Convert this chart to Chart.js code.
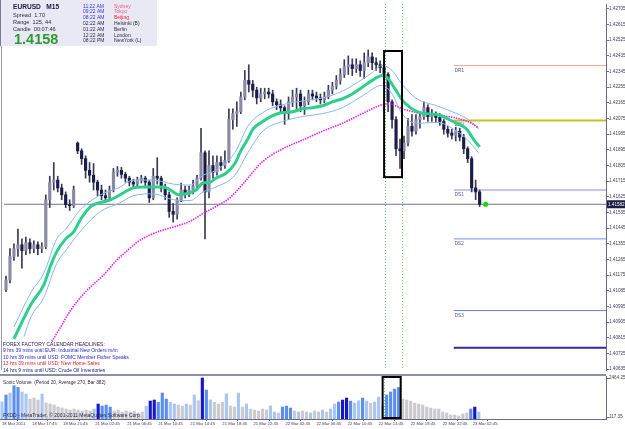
<!DOCTYPE html>
<html><head><meta charset="utf-8">
<script src="https://cdn.jsdelivr.net/npm/chart.js@4.4.1/dist/chart.umd.min.js"></script>
<style>
html,body{margin:0;padding:0;background:#fff;}
#wrap{position:relative;width:625px;height:429px;overflow:hidden;background:#fff;}
canvas{position:absolute;left:0;}
#c1{top:0;} #c2{top:374px;}
</style></head><body>
<div id="wrap"><canvas id="c1" width="625" height="374"></canvas><canvas id="c2" width="625" height="55"></canvas></div>
<script>
// ---------- DATA (30-min steps) ----------
const openP = [1.41091,1.41147,1.41282,1.41327,1.41349,1.41316,1.41361,1.41327,1.41349,1.41327,
1.41338,1.41608,1.41709,1.41721,1.41676,1.41636,1.41580,1.41574,1.41934,1.41889,
1.41844,1.41777,1.41749,1.41709,1.41664,1.41631,1.41619,1.41664,1.41766,1.41777,
1.41754,1.41732,1.41709,1.41698,1.41721,1.41732,1.41709,1.41619,1.41743,1.41732,
1.41676,1.41636,1.41541,1.41524,1.41608,1.41664,1.41642,1.41664,1.41687,1.41732,
1.41878,1.41653,1.41805,1.41766,1.41822,1.41805,1.41833,1.42069,1.42103,1.42114,
1.42199,1.42294,1.42272,1.42238,1.42193,1.42216,1.42227,1.42216,1.42171,1.42154,
1.42137,1.42103,1.42171,1.42199,1.42216,1.42148,1.42171,1.42216,1.42204,1.42193,
1.42182,1.42199,1.42238,1.42261,1.42294,1.42328,1.42373,1.42384,1.42362,1.42384,
1.42351,1.42396,1.42429,1.42396,1.42384,1.42367,1.42328,1.42171,1.42069,1.41901,
1.41889,1.41934,1.42030,1.42002,1.42069,1.42086,1.42137,1.42086,1.42098,1.42081,
1.42058,1.42013,1.41991,1.41979,1.42002,1.41968,1.41901,1.41844,1.41676,1.41653];
const closeP = [1.41147,1.41282,1.41327,1.41349,1.41316,1.41361,1.41327,1.41349,1.41327,1.41338,
1.41608,1.41709,1.41721,1.41676,1.41636,1.41580,1.41574,1.41664,1.41889,1.41844,
1.41777,1.41749,1.41709,1.41664,1.41631,1.41619,1.41664,1.41766,1.41777,1.41754,
1.41732,1.41709,1.41698,1.41721,1.41732,1.41709,1.41619,1.41743,1.41732,1.41676,
1.41636,1.41541,1.41524,1.41608,1.41664,1.41642,1.41664,1.41687,1.41732,1.41878,
1.41653,1.41805,1.41766,1.41822,1.41805,1.41833,1.42069,1.42103,1.42114,1.42199,
1.42294,1.42272,1.42238,1.42193,1.42216,1.42227,1.42216,1.42171,1.42154,1.42137,
1.42103,1.42171,1.42199,1.42216,1.42148,1.42171,1.42216,1.42204,1.42193,1.42182,
1.42199,1.42238,1.42261,1.42294,1.42328,1.42373,1.42384,1.42362,1.42384,1.42351,
1.42396,1.42429,1.42396,1.42384,1.42367,1.42328,1.42171,1.42069,1.41901,1.41889,
1.41934,1.42030,1.42002,1.42069,1.42086,1.42137,1.42086,1.42098,1.42081,1.42058,
1.42013,1.41991,1.41979,1.42002,1.41968,1.41901,1.41844,1.41676,1.41653,1.41582];
const highP = [1.41169,1.41327,1.41355,1.41439,1.41383,1.41394,1.41383,1.41372,1.41366,1.41361,
1.41636,1.41743,1.41822,1.41743,1.41698,1.41653,1.41608,1.41687,1.41940,1.41901,
1.41861,1.41822,1.41816,1.41721,1.41692,1.41664,1.41687,1.41788,1.41799,1.41794,
1.41766,1.41743,1.41726,1.41738,1.41749,1.41743,1.41721,1.41788,1.41850,1.41743,
1.41698,1.41653,1.41586,1.41619,1.41704,1.41687,1.41687,1.41721,1.41749,1.42019,
1.41889,1.41889,1.41861,1.41861,1.41856,1.41889,1.42131,1.42131,1.42171,1.42227,
1.42351,1.42384,1.42294,1.42255,1.42249,1.42249,1.42249,1.42238,1.42188,1.42182,
1.42148,1.42199,1.42238,1.42249,1.42238,1.42199,1.42238,1.42238,1.42227,1.42216,
1.42227,1.42266,1.42283,1.42322,1.42362,1.42413,1.42435,1.42418,1.42418,1.42407,
1.42452,1.42469,1.42452,1.42424,1.42407,1.42396,1.42339,1.42182,1.42086,1.41957,
1.41974,1.42075,1.42098,1.42098,1.42103,1.42171,1.42154,1.42126,1.42114,1.42103,
1.42069,1.42030,1.42013,1.42025,1.42019,1.41985,1.41912,1.41856,1.41721,1.41664];
const lowP = [1.41079,1.41130,1.41259,1.41282,1.41214,1.41293,1.41299,1.41304,1.41293,1.41304,
1.41327,1.41563,1.41664,1.41653,1.41608,1.41563,1.41546,1.41563,1.41873,1.41811,
1.41732,1.41709,1.41664,1.41631,1.41608,1.41592,1.41608,1.41653,1.41743,1.41732,
1.41709,1.41687,1.41676,1.41681,1.41704,1.41687,1.41592,1.41608,1.41698,1.41653,
1.41608,1.41507,1.41479,1.41496,1.41597,1.41619,1.41625,1.41642,1.41676,1.41721,
1.41383,1.41619,1.41732,1.41749,1.41777,1.41788,1.41822,1.42013,1.42030,1.42103,
1.42182,1.42227,1.42199,1.42159,1.42171,1.42188,1.42193,1.42148,1.42126,1.42103,
1.42041,1.42069,1.42143,1.42126,1.42114,1.42098,1.42154,1.42182,1.42171,1.42159,
1.42165,1.42188,1.42216,1.42244,1.42272,1.42311,1.42328,1.42322,1.42339,1.42317,
1.42306,1.42373,1.42356,1.42351,1.42339,1.42272,1.42114,1.42019,1.41861,1.41788,
1.41844,1.41917,1.41974,1.41985,1.42019,1.42069,1.42058,1.42058,1.42053,1.42036,
1.41985,1.41968,1.41957,1.41946,1.41946,1.41873,1.41822,1.41653,1.41608,1.41569];
const volume = [1023,1443,1565,2000,1900,1626,1505,1200,1264,1143,
1500,963,903,843,722,662,600,540,600,540,
480,540,480,600,900,780,840,720,480,540,
420,480,420,480,360,420,780,1083,1143,1000,
1565,1200,1000,900,840,780,900,840,1444,1100,
2467,1745,1143,1000,900,1000,1505,780,720,1565,
720,900,600,540,480,600,540,780,420,360,
720,780,660,480,420,480,420,360,480,420,
540,420,600,900,1020,1140,1260,1080,960,1100,
1260,1080,960,1020,1324,780,1444,1625,1800,1900,
1200,1140,1080,960,900,840,720,660,600,600,
420,360,240,240,180,300,360,600,720,420];
const volClass = [1,2,1,2,2,1,1,0,0,0, 1,0,0,0,0,0,0,0,0,0, 0,0,0,1,3,2,2,2,0,0,
0,0,0,0,0,0,1,3,3,2, 2,2,1,1,0,0,1,0,1,0, 3,2,1,0,0,0,1,0,0,1,
0,1,0,0,0,0,0,1,1,0, 2,2,2,0,1,0,0,1,0,0, 1,0,1,1,2,3,3,2,1,1,
2,1,0,1,1,0,2,2,2,2, 0,0,0,0,0,0,0,0,0,0, 0,0,0,0,0,0,0,2,3,1];

const maIdx = [2,6.25,9.5,11.25,12.75,15,17,18.75,21.25,23.75,26.25,28.25,30.75,32,34.5,37,39.5,42,43.25,46.25,47.75,49.5,51.25,52.75,55.25,57.5,59,60.75,62,64.5,67,69.5,72,74.5,77,79.5,82,84.5,87,89.5,92,94.5,95.75,97,98.25,99.5,101.25,103.25,105.75,108.25,110.75,113.25,115.75,117.75,119];
const maVal = [1.40809,1.41006,1.41119,1.41231,1.41310,1.41383,1.41423,1.41496,1.41569,1.41592,1.41608,1.41631,1.41664,1.41676,1.41681,1.41681,1.41681,1.41653,1.41636,1.41648,1.41664,1.41704,1.41709,1.41732,1.41760,1.41816,1.41889,1.41957,1.42013,1.42058,1.42092,1.42109,1.42114,1.42131,1.42137,1.42148,1.42171,1.42188,1.42216,1.42255,1.42294,1.42322,1.42311,1.42272,1.42227,1.42182,1.42143,1.42114,1.42103,1.42098,1.42075,1.42047,1.42013,1.41946,1.41912];
const upIdx = [2,6.25,9.5,12.75,15,18.75,23.75,28.25,32,37,42,46.25,49.5,52.75,57.5,60.75,64.5,69.5,74.5,79.5,84.5,89.5,92,94.5,97,99.5,103.25,108.25,113.25,115.75,118.75];
const upVal = [1.40877,1.41074,1.41186,1.41383,1.41439,1.41552,1.41636,1.41676,1.41721,1.41721,1.41698,1.41692,1.41749,1.41777,1.41878,1.42030,1.42109,1.42154,1.42176,1.42193,1.42232,1.42300,1.42339,1.42379,1.42351,1.42272,1.42188,1.42148,1.42103,1.42075,1.42019];
const loIdx = [4.5,6.25,9.5,12.75,15,18.75,23.75,28.25,32,37,42,46.25,49.5,52.75,57.5,60.75,64.5,69.5,74.5,79.5,84.5,89.5,94.5,97,99.5,103.25,108.25,113.25,115.75,118.75];
const loVal = [1.40821,1.40933,1.41046,1.41242,1.41316,1.41428,1.41541,1.41586,1.41631,1.41642,1.41608,1.41603,1.41653,1.41681,1.41749,1.41878,1.42002,1.42058,1.42086,1.42103,1.42137,1.42204,1.42266,1.42216,1.42103,1.42047,1.42053,1.42002,1.41957,1.41878];
const slowIdx = [11.5,13.75,16.25,20.25,24.5,27.75,30.75,32.75,36.25,39.5,42.75,46.25,49.5,52.75,56.25,59.5,64.5,69.5,74.5,79.5,84.5,89.5,94.5,96.25,99.5,104.5,109.5,114.5,117,118.75];
const slowVal = [1.40793,1.40877,1.40973,1.41085,1.41175,1.41259,1.41321,1.41361,1.41406,1.41434,1.41456,1.41484,1.41529,1.41569,1.41619,1.41698,1.41828,1.41901,1.41951,1.42002,1.42047,1.42103,1.42154,1.42159,1.42131,1.42103,1.42092,1.42069,1.42047,1.42019];

const priceTicks = [1.42705,1.42615,1.42525,1.42435,1.42345,1.42255,1.42165,1.42075,1.41985,1.41895,1.41805,1.41715,1.41625,1.41535,1.41445,1.41355,1.41265,1.41175,1.41085,1.40995,1.40905,1.40815,1.40725,1.40635];
const volTicks = [2464.25,117.35];
const timeTickIdx = [0,7.5,15.25,23.25,31.25,39,47,55,62.75,70.75,78.5,86.25,94,102,110,117.5];
const timeTickLabels = ['18 Mar 2011','18 Mar 17:45','18 Mar 21:45','21 Mar 02:45','21 Mar 06:45','21 Mar 10:45','21 Mar 14:45','21 Mar 18:45','21 Mar 22:45','22 Mar 02:45','22 Mar 06:45','22 Mar 10:45','22 Mar 14:45','22 Mar 18:45','22 Mar 22:45','23 Mar 02:45'];

const pivotNames = ['DR1','DPV','DS1','DS2','DS3',''];
const pivotValues = [1.42379,1.42064,1.41664,1.41383,1.40971,1.40757];
const pivotStartIdx = 112.5;
const lastPrice = 1.41582;
const dotIdx = 120.5;
const boxIdx = [95,99.5];
const boxPrice = [1.42463,1.41738];
const markIdx = [95.25,99.5];

const infoLeft = ['Spread  1.70','Range  125, 44','Candle  00:07:46'];
const clockTimes = ['11:22 AM','09:22 AM','08:22 AM','02:22 AM','01:22 AM','12:22 AM','08:22 PM'];
const clockCities = ['Sydney','Tokyo','Beijing','Helsinki (B)','Berlin','London','NewYork (L)'];
const newsLines = ['9 hrs 39 mins until EUR: Industrial New Orders m/m','10 hrs 39 mins until USD: FOMC Member Fisher Speaks','13 hrs 39 mins until USD: New Home Sales','14 hrs 9 mins until USD: Crude Oil Inventories'];

// ---------- STYLE ----------
const FONT = '"Liberation Sans", Arial, sans-serif';
const xMin = -0.5, xMax = 150.75;
const yMax = 1.42733125, yMin = 1.40629375;
const VOLCOL = ['#cbcbcf','#a9c6f2','#5a8ef0','#1616c8'];
const PIVCOL = ['#f2a391','#c8c21c','#8c8ce6','#7392ea','#6282e2','#2c2caa'];
const PIVW = [1,2,1,1,1,2];
const pts = (ix, v) => ix.map((x,k)=>({x, y:v[k]}));

const overlay1 = {
  id:'overlay1',
  beforeDatasetsDraw(chart){
    const {ctx, scales:{x,y}} = chart;
    ctx.save();
    ctx.font = '4.6px ' + FONT; ctx.fillStyle = '#56568a'; ctx.textBaseline='alphabetic';
    const px = x.getPixelForValue(pivotStartIdx) + 1;
    pivotNames.forEach((n,k)=>{ if(n) ctx.fillText(n, px, y.getPixelForValue(pivotValues[k]) + 6); });
    ctx.restore();
  },
  afterDatasetsDraw(chart){
    const {ctx, scales:{x,y}, chartArea:a} = chart;
    ctx.save();
    ctx.strokeStyle='#9a9ab2'; ctx.lineWidth=1;
    ctx.beginPath(); ctx.moveTo(1.5,a.top); ctx.lineTo(1.5,a.bottom); ctx.stroke();
    ctx.strokeStyle='#62d062'; ctx.setLineDash([1,2]);
    markIdx.forEach(v=>{const p=Math.round(x.getPixelForValue(v))+0.5; ctx.beginPath(); ctx.moveTo(p,a.top); ctx.lineTo(p,a.bottom); ctx.stroke();});
    ctx.setLineDash([]);
    const x0=x.getPixelForValue(boxIdx[0]), x1=x.getPixelForValue(boxIdx[1]);
    const y0=y.getPixelForValue(boxPrice[0]), y1=y.getPixelForValue(boxPrice[1]);
    ctx.strokeStyle='#000'; ctx.lineWidth=2; ctx.strokeRect(x0,y0,x1-x0,y1-y0);
    // info panel
    ctx.fillStyle='#e9e9f5'; ctx.fillRect(0,0,157,46);
    ctx.fillStyle='#7a7a96'; ctx.fillRect(0,0,1,46);
    ctx.textBaseline='alphabetic';
    ctx.fillStyle='#1a1a3a'; ctx.font='bold 6.6px '+FONT; ctx.fillText('EURUSD   M15',13,8.5);
    ctx.font='5.6px '+FONT; ctx.fillStyle='#2a2a44';
    infoLeft.forEach((t,k)=>ctx.fillText(t,13,16.5+k*7));
    ctx.font='bold 14.5px '+FONT; ctx.fillStyle='#2e9a2e'; ctx.fillText('1.4158',14,44);
    ctx.font='5px '+FONT;
    clockTimes.forEach((t,k)=>{ctx.fillStyle = k<3 ? '#3232e6' : '#2a2a40'; ctx.fillText(t,83,7.5+k*5.8);});
    const cityCol = ['#ee5a86','#ee5a86','#e02436','#2a2a40','#2a2a40','#2a2a40','#2a2a40'];
    clockCities.forEach((t,k)=>{ctx.fillStyle = cityCol[k]; ctx.fillText(t,114,7.5+k*5.8);});
    // news
    ctx.font='5px '+FONT; ctx.fillStyle='#1e1e50';
    ctx.fillText('FOREX FACTORY CALENDAR HEADLINES:',3,345.5);
    const newsCol = ['#2424c8','#2424c8','#e42222','#20207e'];
    newsLines.forEach((t,k)=>{ctx.fillStyle=newsCol[k]; ctx.fillText(t,3,352+k*6.5);});
    const py = y.getPixelForValue(lastPrice);
    ctx.fillStyle='#1c1c44'; ctx.fillRect(607,py-4,18,8);
    ctx.fillStyle='#fff'; ctx.font='4.6px '+FONT; ctx.textBaseline='middle'; ctx.fillText(lastPrice.toFixed(5),608,py+0.3);
    ctx.restore();
  }
};

const overlay2 = {
  id:'overlay2',
  afterDatasetsDraw(chart){
    const {ctx, scales:{x}, chartArea:a} = chart;
    ctx.save();
    ctx.fillStyle='#8e8ea8'; ctx.fillRect(0,0,606,2);
    ctx.strokeStyle='#62d062'; ctx.lineWidth=1; ctx.setLineDash([1,2]);
    markIdx.forEach(v=>{const p=Math.round(x.getPixelForValue(v))+0.5; ctx.beginPath(); ctx.moveTo(p,a.top); ctx.lineTo(p,a.bottom); ctx.stroke();});
    ctx.setLineDash([]);
    const x0=x.getPixelForValue(boxIdx[0]), x1=x.getPixelForValue(boxIdx[1]);
    ctx.strokeStyle='#000'; ctx.lineWidth=2; ctx.strokeRect(x0,a.top+1,x1-x0,a.bottom-a.top-2);
    ctx.font='4.7px '+FONT; ctx.fillStyle='#2a2a48'; ctx.textBaseline='alphabetic';
    ctx.fillText('Sonic Volume  (Period 20, Average 270, Bar 382)',3,9.5);
    ctx.font='5px '+FONT;
    ctx.fillText('FXDD - MetaTrader, \u00A9 2001-2011 MetaQuotes Software Corp.',3,43);
    ctx.restore();
  }
};

const candleCol = openP.map((o,i)=> closeP[i] >= o ? '#8a8aa4' : '#1c1c48');

new Chart(document.getElementById('c1'), {
  type:'bar',
  data:{datasets:[
    {type:'line', data:[{x:dotIdx,y:lastPrice}], showLine:false, pointRadius:2.6, pointBackgroundColor:'#10dd10', pointBorderWidth:0, order:0},
    {type:'line', data:pts(maIdx,maVal), borderColor:'#2ccf8c', borderWidth:3, pointRadius:0, cubicInterpolationMode:'monotone', order:1},
    {type:'line', data:pts(slowIdx,slowVal), borderColor:'#ec22ec', borderWidth:1.6, borderDash:[1.5,1], pointRadius:0, cubicInterpolationMode:'monotone', order:2},
    {type:'line', data:pts(upIdx,upVal), borderColor:'#86b8f2', borderWidth:1, pointRadius:0, cubicInterpolationMode:'monotone', order:3},
    {type:'line', data:pts(loIdx,loVal), borderColor:'#86b8f2', borderWidth:1, pointRadius:0, cubicInterpolationMode:'monotone', order:3},
    {type:'bar', data:openP.map((o,i)=>({x:i,y:[o,closeP[i]]})), backgroundColor:candleCol, barThickness:2.5, minBarLength:1, grouped:false, order:4},
    {type:'bar', data:highP.map((h,i)=>({x:i,y:[lowP[i],h]})), backgroundColor:'#3a3a58', barThickness:1, grouped:false, order:5},
    ...pivotValues.map((p,k)=>({type:'line', data:[{x:pivotStartIdx,y:p},{x:xMax,y:p}], borderColor:PIVCOL[k], borderWidth:PIVW[k], pointRadius:0, order:6})),
    {type:'line', data:[{x:xMin,y:lastPrice},{x:xMax,y:lastPrice}], borderColor:'#72728e', borderWidth:1, pointRadius:0, order:7}
  ]},
  options:{
    responsive:false, animation:false, devicePixelRatio:1, events:[],
    layout:{padding:0},
    plugins:{legend:{display:false}, tooltip:{enabled:false}},
    scales:{
      x:{type:'linear', min:xMin, max:xMax, offset:false, display:false, grid:{display:false}},
      y:{type:'linear', position:'right', min:yMin, max:yMax, bounds:'data', beginAtZero:false,
        grid:{display:true, drawOnChartArea:false, tickLength:3, color:'#6a6a8a'},
        border:{display:true, color:'#6a6a8a'},
        ticks:{autoSkip:false, padding:0, color:'#3c3c5c', font:{size:4.6, family:FONT}, callback:v=>Number(v).toFixed(5)},
        afterBuildTicks:s=>{s.ticks = priceTicks.map(v=>({value:v}));},
        afterFit:s=>{s.width=19; s.paddingTop=0; s.paddingBottom=0;}
      }
    }
  },
  plugins:[overlay1]
});

new Chart(document.getElementById('c2'), {
  type:'bar',
  data:{datasets:[
    {type:'bar', data:volume.map((v,i)=>({x:i,y:v})), backgroundColor:volClass.map(c=>VOLCOL[c]), barThickness:2.5, grouped:false}
  ]},
  options:{
    responsive:false, animation:false, devicePixelRatio:1, events:[],
    layout:{padding:{top:2,left:0,right:0,bottom:0}},
    plugins:{legend:{display:false}, tooltip:{enabled:false}},
    scales:{
      x:{type:'linear', min:xMin, max:xMax, offset:false, position:'bottom',
        grid:{display:true, drawOnChartArea:false, tickLength:2, color:'#6a6a8a'},
        border:{display:true, color:'#6a6a8a'},
        ticks:{autoSkip:false, maxRotation:0, minRotation:0, align:'start', padding:0, color:'#3c3c5c', font:{size:4.2, family:FONT}, callback:(v,i)=>timeTickLabels[i]},
        afterBuildTicks:s=>{s.ticks = timeTickIdx.map(v=>({value:v}));},
        afterFit:s=>{s.height=10; s.paddingLeft=0; s.paddingRight=0;}
      },
      y:{type:'linear', position:'right', min:0, max:2588, bounds:'data',
        grid:{display:true, drawOnChartArea:false, tickLength:3, color:'#6a6a8a'},
        border:{display:true, color:'#6a6a8a'},
        ticks:{autoSkip:false, padding:0, color:'#3c3c5c', font:{size:4.6, family:FONT}, callback:v=>Number(v).toFixed(2)},
        afterBuildTicks:s=>{s.ticks = volTicks.map(v=>({value:v}));},
        afterFit:s=>{s.width=19; s.paddingTop=0; s.paddingBottom=0;}
      }
    }
  },
  plugins:[overlay2]
});
</script>
</body></html>
